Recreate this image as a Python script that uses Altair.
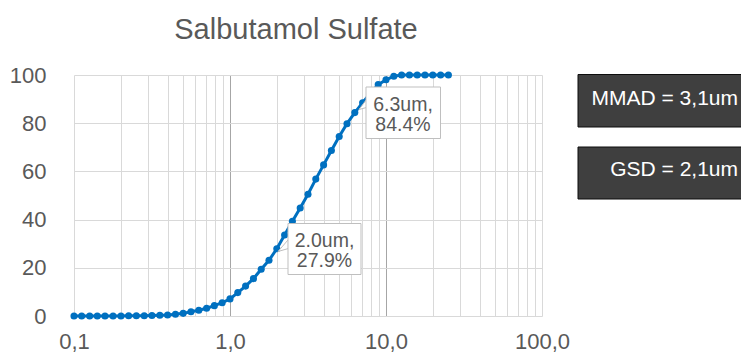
import altair as alt
import pandas as pd

# ---- data ----
sizes = [0.100, 0.112, 0.126, 0.141, 0.158, 0.178, 0.200, 0.224, 0.251, 0.282,
         0.316, 0.355, 0.398, 0.447, 0.501, 0.562, 0.631, 0.708, 0.794, 0.891,
         1.000, 1.122, 1.259, 1.413, 1.585, 1.778, 1.995, 2.239, 2.512, 2.818,
         3.162, 3.548, 3.981, 4.467, 5.012, 5.623, 6.310, 7.079, 7.943, 8.913,
         10.00, 11.22, 12.59, 14.13, 15.85, 17.78, 19.95, 22.39, 25.12]
cumulative = [0.0, 0.0, 0.0, 0.0, 0.0, 0.0, 0.0, 0.1, 0.1, 0.1,
              0.2, 0.3, 0.4, 0.7, 1.1, 1.8, 2.4, 3.2, 4.3, 5.5,
              7.1, 9.7, 12.4, 15.5, 19.4, 23.1, 27.9, 33.6, 39.3, 44.8,
              50.5, 56.8, 62.7, 68.7, 74.5, 79.8, 84.4, 88.5, 92.4, 96.0,
              98.0, 99.5, 100.0, 100.0, 100.0, 100.0, 100.0, 100.0, 100.0]

x_grid = [0.1, 0.2, 0.3, 0.4, 0.5, 0.6, 0.7, 0.8, 0.9,
          1, 2, 3, 4, 5, 6, 7, 8, 9,
          10, 20, 30, 40, 50, 60, 70, 80, 90, 100]
y_ticks = [0, 20, 40, 60, 80, 100]

title_text = "Salbutamol Sulfate"
callout_texts = ["2.0um,\n27.9%", "6.3um,\n84.4%"]
stat_texts = ["MMAD = 3,1um", "GSD = 2,1um"]

BLUE = "#0070C0"
GRAY_TXT = "#595959"
FONT = "Liberation Sans"

W, H = 468, 241

df = pd.DataFrame({"size": sizes, "cum": cumulative})

x_axis = alt.Axis(
    values=x_grid,
    labelExpr="indexof([0.1, 1, 10, 100], datum.value) >= 0 ? replace(format(datum.value, '.1f'), '.', ',') : ''",
    grid=True,
    gridColor={"condition": {"test": "datum.value === 1 || datum.value === 10", "value": "#a6a6a6"},
               "value": "#d9d9d9"},
    gridWidth=1,
    domain=False,
    ticks=False,
    labelPadding=15,
    labelFontSize=22,
    labelColor=GRAY_TXT,
    labelFont=FONT,
    labelOverlap=False,
    labelFlush=False,
    title=None,
)
y_axis = alt.Axis(
    values=y_ticks,
    grid=True,
    gridColor="#d9d9d9",
    domain=False,
    ticks=False,
    labelPadding=28,
    labelFontSize=22,
    labelColor=GRAY_TXT,
    labelFont=FONT,
    title=None,
)

curve = alt.Chart(df).mark_line(
    color=BLUE, strokeWidth=3,
    point=alt.OverlayMarkDef(filled=True, size=50, color=BLUE, opacity=1),
).encode(
    x=alt.X("size:Q", scale=alt.Scale(type="log", domain=[0.1, 100]), axis=x_axis),
    y=alt.Y("cum:Q", scale=alt.Scale(domain=[0, 100]), axis=y_axis),
)


# callout label boxes with a small pointer
def callout(i, x0, x1, y0, y1, tx, ty, px, py, psize, ppath):
    d = pd.DataFrame({"t": [callout_texts[i]]})
    pointer = alt.Chart(d).mark_point(
        shape=ppath, size=psize, filled=True, fill="white", stroke="#bfbfbf",
        strokeWidth=1, opacity=1,
    ).encode(x=alt.value(px), y=alt.value(py))
    box = alt.Chart(d).mark_rect(fill="white", stroke="#bfbfbf", strokeWidth=1).encode(
        x=alt.value(x0), x2=alt.value(x1), y=alt.value(y0), y2=alt.value(y1))
    txt = alt.Chart(d).mark_text(font=FONT, fontSize=19.5, color=GRAY_TXT, lineBreak="\n",
                                 lineHeight=20, align="center", baseline="middle").encode(
        text="t:N", x=alt.value(tx), y=alt.value(ty))
    return pointer + box + txt


c1 = callout(0, 214, 287, 148.5, 199.5, 250.5, 166,
             209, 170.5, 144, "M 0.9 -1 L -0.83 1 L 0.9 0.5 Z")
c2 = callout(1, 292, 366.5, 12, 63.5, 329, 29.5,
             288.5, 29.5, 100, "M 0.8 -1 L -0.7 1 L 0.8 0.6 Z")


def stat_box(i, y0, y1, ty):
    d = pd.DataFrame({"t": [stat_texts[i]]})
    box = alt.Chart(d).mark_rect(fill="#3f3f3f", stroke="#0d0d0d", strokeWidth=1).encode(
        x=alt.value(504), x2=alt.value(680), y=alt.value(y0), y2=alt.value(y1))
    txt = alt.Chart(d).mark_text(font=FONT, fontSize=21, color="white",
                                 align="right", baseline="middle").encode(
        text="t:N", x=alt.value(664), y=alt.value(ty))
    return box + txt


s1 = stat_box(0, -0.5, 52, 24)
s2 = stat_box(1, 72, 124, 95)

title = alt.Chart(pd.DataFrame({"t": [title_text]})).mark_text(
    font=FONT, fontSize=29, color=GRAY_TXT, align="center", baseline="middle"
).encode(text="t:N", x=alt.value(222), y=alt.value(-45))

chart = alt.layer(curve, c1, c2, s1, s2, title).properties(
    width=W, height=H,
    autosize=alt.AutoSizeParams(type="none"),
    padding={"left": 66, "top": 67, "right": 199, "bottom": 38},
).configure_view(stroke=None)

chart.save("out.html", embed_options={"renderer": "svg", "actions": False})
